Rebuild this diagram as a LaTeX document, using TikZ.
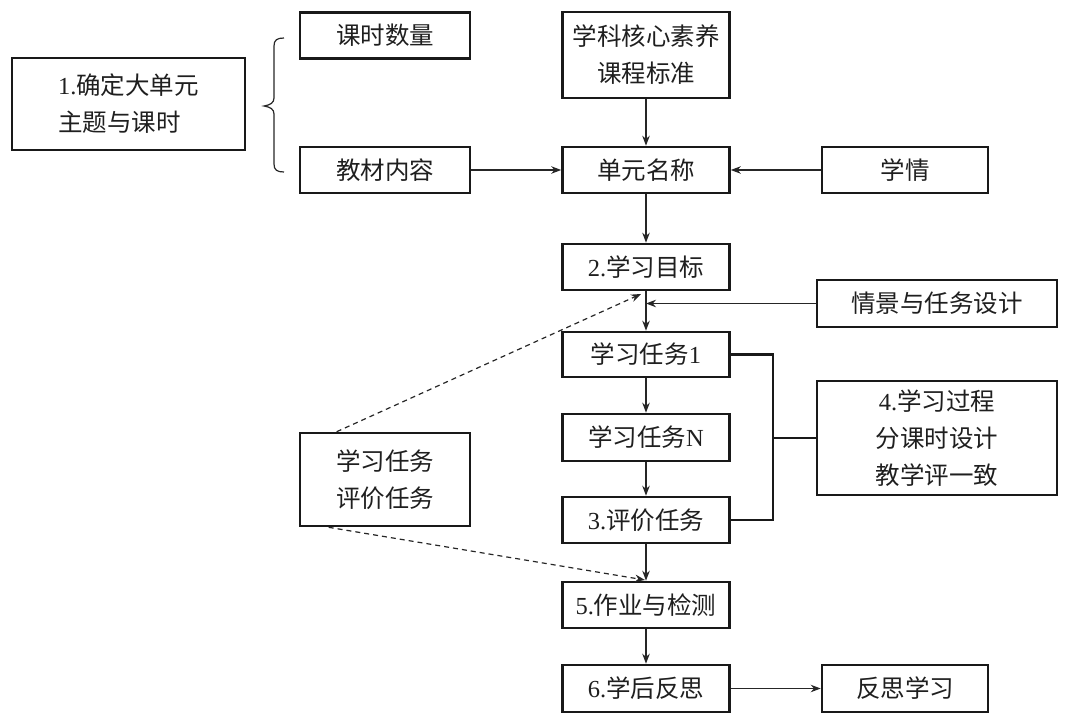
\documentclass[tikz,border=0pt]{standalone}
\usepackage{fontspec}
\setmainfont{Liberation Serif}
\newfontfamily\cjk{Noto Sans CJK SC}
\usetikzlibrary{arrows.meta,calc}
\begin{document}
\begin{tikzpicture}[x=1pt,y=-1pt,
 box/.style={draw=black!90,line width=2.6pt,inner sep=0pt,minimum width=167pt,minimum height=46pt,align=center,text=black!88,font=\fontsize{24.5}{37}\selectfont},
 conn/.style={line width=1.2pt,draw=black!85},
 arr/.style={conn,-{Stealth[length=10pt,width=7.5pt]}},
 dsh/.style={arr,dash pattern=on 5pt off 4pt},
 brk/.style={line width=2.7pt,draw=black!90}]
\useasboundingbox (0,0) rectangle (1071,714);
\node[box,minimum width=233pt,minimum height=92pt,align=left] (n1) at (128.5,104) {1.{\cjk 确定大单元}\\{\cjk 主题与课时}};
\node[box,minimum width=170pt] (ks) at (385,35.5) {\cjk 课时数量};
\node[box,minimum width=170pt] (jc) at (385,170) {\cjk 教材内容};
\node[box,minimum height=86pt] (hx) at (646,55) {{\cjk 学科核心素养}\\{\cjk 课程标准}};
\node[box] (dy) at (646,170) {\cjk 单元名称};
\node[box,minimum width=166pt] (xq) at (905,170) {\cjk 学情};
\node[box] (mb) at (646,267) {2.{\cjk 学习目标}};
\node[box,minimum width=240pt,minimum height=47pt] (qj) at (937,303.5) {\cjk 情景与任务设计};
\node[box,minimum height=45pt] (t1) at (646,354.5) {{\cjk 学习任务}1};
\node[box,minimum height=47pt] (tn) at (646,437.5) {{\cjk 学习任务}N};
\node[box] (t3) at (646,520) {3.{\cjk 评价任务}};
\node[box,minimum width=240pt,minimum height=114pt] (gc) at (937,438) {4.{\cjk 学习过程}\\{\cjk 分课时设计}\\{\cjk 教学评一致}};
\node[box,minimum width=170pt,minimum height=93pt] (pj) at (385,479.5) {{\cjk 学习任务}\\{\cjk 评价任务}};
\node[box] (zy) at (646,605) {5.{\cjk 作业与检测}};
\node[box,minimum height=47pt] (fs) at (646,688.5) {6.{\cjk 学后反思}};
\node[box,minimum width=166pt,minimum height=47pt] (fx) at (905,688.5) {\cjk 反思学习};
% brace
\draw[conn] (284,38) .. controls (277,38) and (274,40) .. (274,46) -- (274,98) .. controls (274,103) and (270,105) .. (264,106) .. controls (270,107) and (274,109) .. (274,114) -- (274,164) .. controls (274,170) and (277,172) .. (284,172);
% main connectors
\draw[arr] (hx) -- (dy);
\draw[arr] (jc) -- (dy);
\draw[arr] (xq) -- (dy);
\draw[arr] (dy) -- (mb);
\draw[arr] (mb) -- (t1);
\draw[arr] (qj.west) -- (qj.west -| mb);
\draw[arr] (t1) -- (tn);
\draw[arr] (tn) -- (t3);
\draw[arr] (t3) -- (zy);
\draw[arr] (zy) -- (fs);
\draw[arr] (fs) -- (fx);
% dashed
\coordinate (d1) at (641,294);
\coordinate (d2) at (645,580);
\draw[dsh] ($(pj.north west)+(38,0)$) -- (d1);
\draw[dsh] ($(pj.south west)+(30,0)$) -- (d2);
% bracket
\coordinate (bx) at (773,0);
\draw[brk] (t1.east) -- (t1.east -| bx) -- (t3.east -| bx) -- (t3.east);
\draw[brk] (gc.west) -- (gc.west -| bx);
\end{tikzpicture}
\end{document}
